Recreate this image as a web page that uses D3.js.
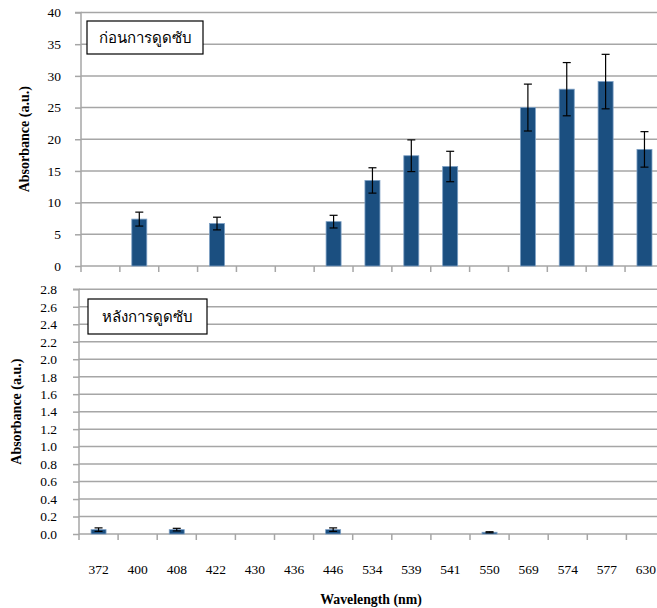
<!DOCTYPE html>
<html><head><meta charset="utf-8">
<script src="https://cdn.jsdelivr.net/npm/d3@7"></script>
<style>
html,body{margin:0;padding:0;background:#fff;overflow:hidden}
svg{display:block}
</style></head>
<body>
<svg id="chart" width="657" height="608"></svg>
<script>
const categories = ["372","400","408","422","430","436","446","534","539","541","550","569","574","577","630"];
const beforeValues = [null,7.4,null,6.7,null,null,7.0,13.5,17.4,15.7,null,25.0,27.9,29.1,18.4];
const beforeErrors = [null,1.1,null,1.0,null,null,1.0,2.0,2.5,2.4,null,3.7,4.2,4.3,2.8];
const afterValues = [0.05,null,0.05,null,null,null,0.05,null,null,null,0.02,null,null,null,null];
const afterErrors = [0.02,null,0.015,null,null,null,0.02,null,null,null,0.006,null,null,null,null];
const beforeTicks = [0,5,10,15,20,25,30,35,40];
const afterTicks = [0,0.2,0.4,0.6,0.8,1.0,1.2,1.4,1.6,1.8,2.0,2.2,2.4,2.6,2.8];
const beforeLabel = "ก่อนการดูดซับ";
const afterLabel = "หลังการดูดซับ";
const yTitle = "Absorbance (a.u.)";
const xTitle = "Wavelength (nm)";

const svg = d3.select("#chart");
const serif = '"Liberation Serif","Times New Roman",serif';
const thai = 'Tahoma,"Noto Sans","DejaVu Sans",sans-serif';
const gridColor = "#a6a6a6";
const barColor = "#1b4f80";

function panel(opt){
  const g = svg.append("g");
  const x = d3.scaleBand().domain(categories).range([opt.left, opt.left + 15*opt.step]).paddingInner(0).paddingOuter(0);
  const y = d3.scaleLinear().domain([0, opt.max]).range([opt.bottom, opt.top]);
  g.append("g").selectAll("line").data(opt.ticks.filter(t=>t>0)).join("line")
    .attr("x1", opt.left).attr("x2", 657)
    .attr("y1", d=>y(d)).attr("y2", d=>y(d))
    .attr("stroke", gridColor).attr("stroke-width", 1.5);
  const ya = g.append("g").attr("transform", `translate(${opt.left},0)`)
    .call(d3.axisLeft(y).tickValues(opt.ticks).tickFormat(opt.fmt).tickSize(6).tickPadding(opt.pad));
  ya.select(".domain").attr("stroke", gridColor).attr("stroke-width",1.5).attr("d", `M-6,${opt.top}H0V${opt.bottom}`);
  ya.selectAll(".tick line").attr("stroke", gridColor).attr("stroke-width",1.5);
  ya.selectAll(".tick text").style("font-family", serif).style("font-size", "13.5px").attr("fill","#000");
  const xa = g.append("g").attr("transform", `translate(0,${opt.bottom})`)
    .call(d3.axisBottom(x).tickSize(0).tickFormat(opt.showX ? (d=>d) : (()=>"")).tickPadding(30));
  xa.select(".domain").attr("stroke", gridColor).attr("stroke-width",1.5).attr("d", `M${opt.left},0H657`);
  xa.selectAll(".tick text").style("font-family", serif).style("font-size", "13.5px").attr("fill","#000");
  g.append("g").selectAll("line").data(categories).join("line")
    .attr("x1", d=>x(d)).attr("x2", d=>x(d))
    .attr("y1", opt.bottom).attr("y2", opt.bottom+6)
    .attr("stroke", gridColor).attr("stroke-width", 1.5);
  const data = categories.map((c,i)=>({c, v: opt.values[i], e: opt.errors[i]})).filter(d=>d.v!=null);
  const bw = 15;
  g.append("g").selectAll("rect").data(data).join("rect")
    .attr("x", d=>x(d.c)+x.bandwidth()/2-bw/2)
    .attr("width", bw)
    .attr("y", d=>y(d.v))
    .attr("height", d=>opt.bottom-y(d.v))
    .attr("fill", barColor)
    .attr("stroke", "#7c9fc4").attr("stroke-width", 0.8);
  const eg = g.append("g").attr("stroke", "#000").attr("stroke-width", 1.2);
  data.forEach(d=>{
    const cx = x(d.c)+x.bandwidth()/2;
    const y1 = y(d.v+d.e), y2 = y(d.v-d.e);
    eg.append("line").attr("x1",cx).attr("x2",cx).attr("y1",y1).attr("y2",y2);
    eg.append("line").attr("x1",cx-4).attr("x2",cx+4).attr("y1",y1).attr("y2",y1);
    eg.append("line").attr("x1",cx-4).attr("x2",cx+4).attr("y1",y2).attr("y2",y2);
  });
  g.append("rect").attr("x", opt.box[0]).attr("y", opt.box[1]).attr("width", opt.box[2]).attr("height", opt.box[3])
    .attr("fill","#fff").attr("stroke","#000").attr("stroke-width",1.2);
  g.append("text").attr("x", opt.box[0]+opt.box[2]/2).attr("y", opt.box[1]+opt.box[3]/2+5)
    .attr("text-anchor","middle").style("font-family", thai).style("font-size", "15px").text(opt.label);
  g.append("text").attr("transform", `translate(${opt.titleX},${(opt.top+opt.bottom)/2}) rotate(-90)`)
    .attr("text-anchor","middle").style("font-family", serif).style("font-weight","bold").style("font-size","14px")
    .text(yTitle);
}

panel({left:81, step:38.86, top:12.5, bottom:266, max:40, ticks:beforeTicks, fmt:d3.format("d"), pad:14,
  values:beforeValues, errors:beforeErrors, showX:false, box:[87,21,116,33], label:beforeLabel, titleX:29});
panel({left:79, step:39.1, top:289.3, bottom:534, max:2.8, ticks:afterTicks, fmt:d3.format(".1f"), pad:16,
  values:afterValues, errors:afterErrors, showX:true, box:[88,299,119,35], label:afterLabel, titleX:21});

svg.append("text").attr("x", 371).attr("y", 604).attr("text-anchor","middle")
  .style("font-family", serif).style("font-weight","bold").style("font-size","13.8px").text(xTitle);
</script>
</body></html>
